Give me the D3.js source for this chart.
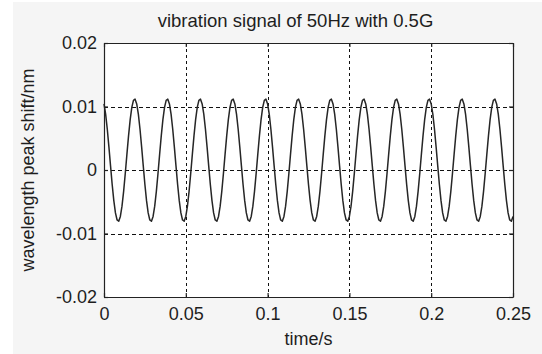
<!DOCTYPE html>
<html>
<head>
<meta charset="utf-8">
<script src="https://cdn.jsdelivr.net/npm/d3@7"></script>
<style>
  html, body { margin: 0; padding: 0; background: #ffffff; }
  svg { display: block; }
  text { font-family: "Liberation Sans", Arial, Helvetica, sans-serif; fill: #1e1e1e; }
</style>
</head>
<body>
<svg id="chart" width="542" height="354"></svg>
<script>
// Signal samples, one every millisecond from t = 0 to t = 0.25 s
const sampleInterval = 0.001;
const signalValues = [
  0.01041, 0.00879, 0.00646, 0.00365, 0.00064, -0.00228, -0.00483, -0.00676, -0.00787, -0.00806, -0.00731, -0.00569, -0.00336, -0.00056, 0.00246, 0.00538, 0.00793, 0.00986, 0.01097, 0.01116,
  0.01041, 0.00879, 0.00646, 0.00365, 0.00064, -0.00228, -0.00483, -0.00676, -0.00787, -0.00806, -0.00731, -0.00569, -0.00336, -0.00056, 0.00246, 0.00538, 0.00793, 0.00986, 0.01097, 0.01116,
  0.01041, 0.00879, 0.00646, 0.00365, 0.00064, -0.00228, -0.00483, -0.00676, -0.00787, -0.00806, -0.00731, -0.00569, -0.00336, -0.00056, 0.00246, 0.00538, 0.00793, 0.00986, 0.01097, 0.01116,
  0.01041, 0.00879, 0.00646, 0.00365, 0.00064, -0.00228, -0.00483, -0.00676, -0.00787, -0.00806, -0.00731, -0.00569, -0.00336, -0.00056, 0.00246, 0.00538, 0.00793, 0.00986, 0.01097, 0.01116,
  0.01041, 0.00879, 0.00646, 0.00365, 0.00064, -0.00228, -0.00483, -0.00676, -0.00787, -0.00806, -0.00731, -0.00569, -0.00336, -0.00056, 0.00246, 0.00538, 0.00793, 0.00986, 0.01097, 0.01116,
  0.01041, 0.00879, 0.00646, 0.00365, 0.00064, -0.00228, -0.00483, -0.00676, -0.00787, -0.00806, -0.00731, -0.00569, -0.00336, -0.00056, 0.00246, 0.00538, 0.00793, 0.00986, 0.01097, 0.01116,
  0.01041, 0.00879, 0.00646, 0.00365, 0.00064, -0.00228, -0.00483, -0.00676, -0.00787, -0.00806, -0.00731, -0.00569, -0.00336, -0.00056, 0.00246, 0.00538, 0.00793, 0.00986, 0.01097, 0.01116,
  0.01041, 0.00879, 0.00646, 0.00365, 0.00064, -0.00228, -0.00483, -0.00676, -0.00787, -0.00806, -0.00731, -0.00569, -0.00336, -0.00056, 0.00246, 0.00538, 0.00793, 0.00986, 0.01097, 0.01116,
  0.01041, 0.00879, 0.00646, 0.00365, 0.00064, -0.00228, -0.00483, -0.00676, -0.00787, -0.00806, -0.00731, -0.00569, -0.00336, -0.00056, 0.00246, 0.00538, 0.00793, 0.00986, 0.01097, 0.01116,
  0.01041, 0.00879, 0.00646, 0.00365, 0.00064, -0.00228, -0.00483, -0.00676, -0.00787, -0.00806, -0.00731, -0.00569, -0.00336, -0.00056, 0.00246, 0.00538, 0.00793, 0.00986, 0.01097, 0.01116,
  0.01041, 0.00879, 0.00646, 0.00365, 0.00064, -0.00228, -0.00483, -0.00676, -0.00787, -0.00806, -0.00731, -0.00569, -0.00336, -0.00056, 0.00246, 0.00538, 0.00793, 0.00986, 0.01097, 0.01116,
  0.01041, 0.00879, 0.00646, 0.00365, 0.00064, -0.00228, -0.00483, -0.00676, -0.00787, -0.00806, -0.00731, -0.00569, -0.00336, -0.00056, 0.00246, 0.00538, 0.00793, 0.00986, 0.01097, 0.01116,
  0.01041, 0.00879, 0.00646, 0.00365, 0.00064, -0.00228, -0.00483, -0.00676, -0.00787, -0.00806, -0.00731
];

// Axis ticks and their labels
const xTicks = [0, 0.05, 0.1, 0.15, 0.2, 0.25];
const xTickLabels = ["0", "0.05", "0.1", "0.15", "0.2", "0.25"];
const yTicks = [-0.02, -0.01, 0, 0.01, 0.02];
const yTickLabels = ["-0.02", "-0.01", "0", "0.01", "0.02"];

const titleText = "vibration signal of 50Hz with 0.5G";
const xLabelText = "time/s";
const yLabelText = "wavelength peak shift/nm";

const svg = d3.select("#chart");
const plot = { left: 104, top: 43, right: 513, bottom: 297 };

// Figure background panel
svg.append("rect")
  .attr("x", 13).attr("y", 2)
  .attr("width", 542 - 13).attr("height", 354 - 2)
  .attr("fill", "#f5f5f5");

const x = d3.scaleLinear().domain([0, 0.25]).range([plot.left, plot.right]);
const y = d3.scaleLinear().domain([-0.02, 0.02]).range([plot.bottom, plot.top]);

// Axes area
svg.append("rect")
  .attr("x", plot.left).attr("y", plot.top)
  .attr("width", plot.right - plot.left).attr("height", plot.bottom - plot.top)
  .attr("fill", "#ffffff");

// Dotted grid on interior ticks
const grid = svg.append("g").attr("stroke", "#111").attr("stroke-width", 1).attr("fill", "none");
grid.selectAll("line.vgrid")
  .data(xTicks.slice(1, -1))
  .join("line")
  .attr("class", "vgrid")
  .attr("x1", d => Math.round(x(d)) + 0.5).attr("x2", d => Math.round(x(d)) + 0.5)
  .attr("y1", plot.top).attr("y2", plot.bottom)
  .attr("stroke-dasharray", "3,3");
grid.selectAll("line.hgrid")
  .data(yTicks.slice(1, -1))
  .join("line")
  .attr("class", "hgrid")
  .attr("y1", d => Math.round(y(d)) + 0.5).attr("y2", d => Math.round(y(d)) + 0.5)
  .attr("x1", plot.left).attr("x2", plot.right)
  .attr("stroke-dasharray", "4,3");

// Signal trace
const line = d3.line()
  .x((d, i) => x(i * sampleInterval))
  .y(d => y(d));
svg.append("path")
  .datum(signalValues)
  .attr("d", line)
  .attr("fill", "none")
  .attr("stroke", "#262626")
  .attr("stroke-width", 1.5)
  .attr("stroke-linejoin", "round");

// Box axes with inward ticks on every side
const tickLen = 4;
const axisFont = "18px";
const bottomAxis = d3.axisBottom(x).tickValues(xTicks).tickSizeInner(-tickLen).tickSizeOuter(0)
  .tickPadding(10).tickFormat((d, i) => xTickLabels[i]);
const leftAxis = d3.axisLeft(y).tickValues(yTicks).tickSizeInner(-tickLen).tickSizeOuter(0)
  .tickPadding(7).tickFormat((d, i) => yTickLabels[i]);
const topAxis = d3.axisTop(x).tickValues(xTicks).tickSizeInner(-tickLen).tickSizeOuter(0).tickFormat("");
const rightAxis = d3.axisRight(y).tickValues(yTicks).tickSizeInner(-tickLen).tickSizeOuter(0).tickFormat("");

function styleAxis(g) {
  g.select(".domain").attr("stroke", "#222").attr("stroke-width", 1.2);
  g.selectAll(".tick line").attr("stroke", "#222").attr("stroke-width", 1.2);
  g.selectAll(".tick text").attr("fill", "#1e1e1e")
    .style("font-family", "'Liberation Sans', Arial, Helvetica, sans-serif")
    .style("font-size", axisFont);
}

svg.append("g").attr("transform", `translate(0,${plot.bottom})`).call(bottomAxis).call(styleAxis);
svg.append("g").attr("transform", `translate(${plot.left},0)`).call(leftAxis).call(styleAxis);
svg.append("g").attr("transform", `translate(0,${plot.top})`).call(topAxis).call(styleAxis);
svg.append("g").attr("transform", `translate(${plot.right},0)`).call(rightAxis).call(styleAxis);

// Title and axis labels
svg.append("text")
  .attr("x", (plot.left + plot.right) / 2 - 13).attr("y", 27)
  .attr("text-anchor", "middle")
  .style("font-size", "18.5px")
  .text(titleText);

svg.append("text")
  .attr("x", (plot.left + plot.right) / 2).attr("y", 345)
  .attr("text-anchor", "middle")
  .style("font-size", "18px")
  .text(xLabelText);

svg.append("text")
  .attr("transform", `translate(34,${(plot.top + plot.bottom) / 2}) rotate(-90)`)
  .attr("text-anchor", "middle")
  .style("font-size", "18px")
  .text(yLabelText);
</script>
</body>
</html>
